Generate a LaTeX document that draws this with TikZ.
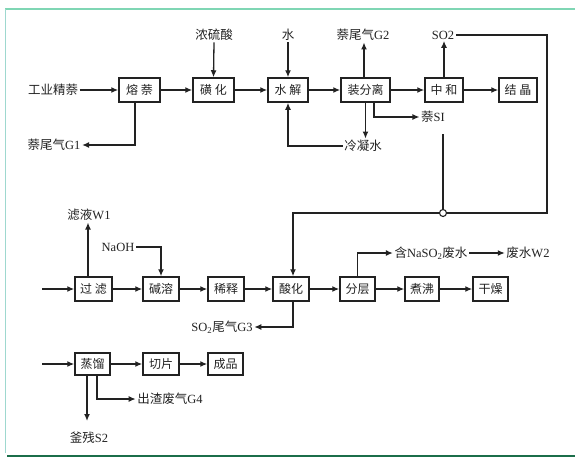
\documentclass[tikz,border=0pt]{standalone}
\usepackage{fontspec}
\setmainfont{Liberation Serif}
\newfontfamily\cjk{Noto Sans CJK SC}
\usetikzlibrary{arrows.meta}
\definecolor{topgreen}{HTML}{7FD6B4}
\definecolor{leftteal}{HTML}{9ED8CF}
\definecolor{botgreen}{HTML}{1B6E4A}
\definecolor{ink}{HTML}{222222}
\begin{document}
\begin{tikzpicture}[x=1pt,y=-1pt,
  every node/.style={text=ink},
  box/.style={draw=ink, line width=1.5pt, minimum height=24pt, inner sep=0pt, font=\cjk\fontsize{12}{14}\selectfont},
  lbl/.style={inner sep=1.5pt, font=\fontsize{12.5}{14}\selectfont},
  arr/.style={draw=ink, -{Latex[length=7pt,width=6pt]}, line width=1.3pt},
  ln/.style={draw=ink, line width=1.3pt}]
\useasboundingbox (0,0) rectangle (575,461);
% frame
\draw[topgreen, line width=1.5pt] (5,9) -- (575,9);
\draw[leftteal, line width=1pt] (5,9) -- (5,453);
\draw[botgreen, line width=2.2pt] (7,456) -- (575,456);

% row 1 boxes
\node[box, minimum width=41pt] (rong)   at (139.5,90) {熔 萘};
\node[box, minimum width=41pt] (huang)  at (213.5,90) {磺 化};
\node[box, minimum width=40pt] (shui)   at (288,90)   {水 解};
\node[box, minimum width=49pt] (zhuang) at (365.5,90) {装分离};
\node[box, minimum width=38pt] (zhong)  at (444,90)   {中 和};
\node[box, minimum width=38pt] (jie)    at (518,90)   {结 晶};

% row 1 labels
\node[lbl] (in1)   at (53,90)   {\cjk 工业精萘};
\node[lbl] (g1)    at (54,145)  {{\cjk 萘尾气}G1};
\node[lbl] (h2so4) at (214,35)  {\cjk 浓硫酸};
\node[lbl] (water) at (288,35)  {\cjk 水};
\node[lbl] (g2)    at (363,35)  {{\cjk 萘尾气}G2};
\node[lbl] (so2)   at (443,35)  {SO2};
\node[lbl] (cond)  at (363,146) {\cjk 冷凝水};
\node[lbl] (s1)    at (433,117) {{\cjk 萘}SI};

% row 2 boxes
\node[box, minimum width=37pt] (guolv) at (93.5,289)  {过 滤};
\node[box, minimum width=36pt] (jian)  at (161,289)   {碱溶};
\node[box, minimum width=36pt] (xi)    at (226,289)   {稀释};
\node[box, minimum width=36pt] (suan)  at (291,289)   {酸化};
\node[box, minimum width=35pt] (fen)   at (357.5,289) {分层};
\node[box, minimum width=34pt] (zhu)   at (422,289)   {煮沸};
\node[box, minimum width=35pt] (gan)   at (490.5,289) {干燥};

% row 2 labels
\node[lbl] (w1)   at (89,215)  {{\cjk 滤液}W1};
\node[lbl] (naoh) at (118,247) {NaOH};
\node[lbl] (ww)   at (431,253) {{\cjk 含}NaSO\textsubscript{2}{\cjk 废水}};
\node[lbl] (w2)   at (528,253) {{\cjk 废水}W2};
\node[lbl] (g3)   at (222,327) {SO\textsubscript{2}{\cjk 尾气}G3};

% row 3 boxes
\node[box, minimum width=35pt, minimum height=22pt] (zl) at (92.5,364)  {蒸馏};
\node[box, minimum width=36pt, minimum height=22pt] (qp) at (161,364)   {切片};
\node[box, minimum width=35pt, minimum height=22pt] (cp) at (225.5,364) {成品};

% row 3 labels
\node[lbl] (s2) at (89,438)  {{\cjk 釜残}S2};
\node[lbl] (g4) at (170,399) {{\cjk 出渣废气}G4};

% coordinates
\coordinate (in2) at (42,289);
\coordinate (in3) at (42,364);
\coordinate (c1) at (547,213);
\coordinate (s1top) at (443,134);
\coordinate (s2tip) at (87,421);

% row 1 connectors
\draw[arr] (in1.east) -- (rong.west);
\draw[arr] (rong) -- (huang);
\draw[arr] (huang) -- (shui);
\draw[arr] (shui) -- (zhuang);
\draw[arr] (zhuang) -- (zhong);
\draw[arr] (zhong) -- (jie);
\draw[arr] ([xshift=-4.5pt]rong.south) |- (g1.east);
\draw[arr] (h2so4.south) -- (huang.north);
\draw[arr] (water.south) -- (shui.north);
\draw[arr] ([xshift=-1.5pt]zhuang.north) -- ([xshift=-1.5pt]zhuang.north |- g2.south);
\draw[arr] (zhuang.south) -- (zhuang.south |- cond.north);
\draw[arr] (cond.west) -| (shui.south);
\draw[arr] ([xshift=8.5pt]zhuang.south) |- (s1.west);
\draw[arr] (zhong.north) -- (zhong.north |- so2.south);

% recycle to acidification
\draw[arr] (so2.east) -| (c1) -| ([xshift=2pt]suan.north);
\draw[ln] (s1top) -- (s1top |- c1);
\node[draw=ink, fill=white, circle, line width=1.1pt, minimum size=7pt, inner sep=0pt] (jn) at (s1top |- c1) {};

% row 2 connectors
\draw[arr] (in2) -- (guolv.west);
\draw[arr] (guolv) -- (jian);
\draw[arr] (jian) -- (xi);
\draw[arr] (xi) -- (suan);
\draw[arr] (suan) -- (fen);
\draw[arr] (fen) -- (zhu);
\draw[arr] (zhu) -- (gan);
\draw[arr] ([xshift=-5.5pt]guolv.north) -- ([xshift=-5.5pt]guolv.north |- w1.south);
\draw[arr] (naoh.east) -| (jian.north);
\draw[arr] (fen.north) |- (ww.west);
\draw[arr] (ww.east) -- (w2.west);
\draw[arr] ([xshift=2pt]suan.south) |- (g3.east);

% row 3 connectors
\draw[arr] (in3) -- (zl.west);
\draw[arr] (zl) -- (qp);
\draw[arr] (qp) -- (cp);
\draw[arr] ([xshift=-5.5pt]zl.south) -- (s2tip);
\draw[arr] ([xshift=4.5pt]zl.south) |- (g4.west);
\end{tikzpicture}
\end{document}
